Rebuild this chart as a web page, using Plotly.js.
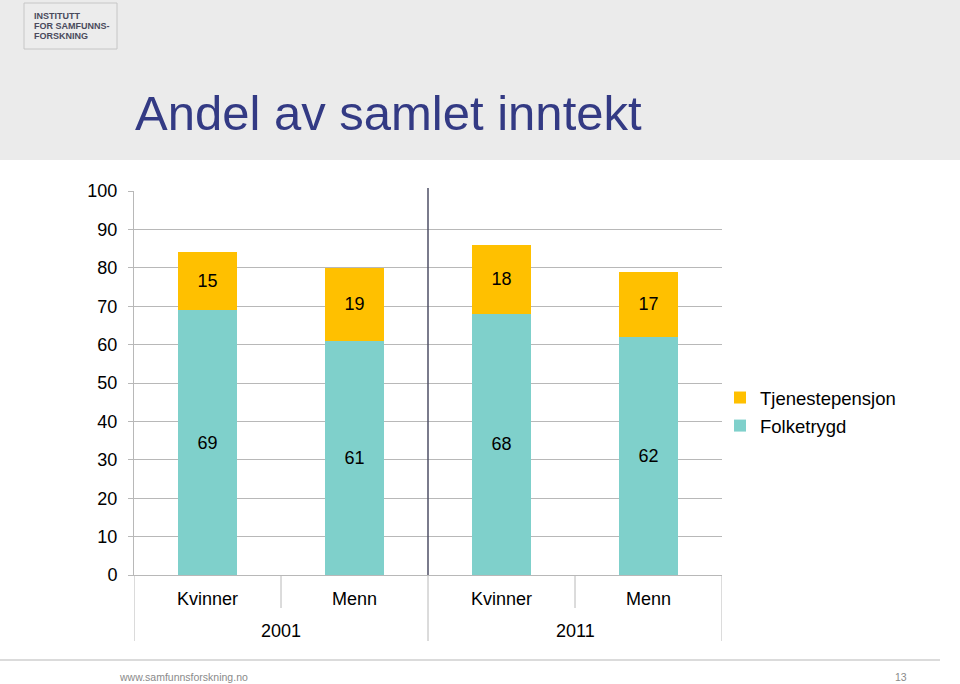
<!DOCTYPE html>
<html>
<head>
<meta charset="utf-8">
<script src="https://cdn.plot.ly/plotly-3.0.1.min.js"></script>
<style>
html,body{margin:0;padding:0;background:#fff;}
#chart{width:960px;height:684px;}
</style>
</head>
<body>
<div id="chart"></div>
<script>
// ---- data ----
var groups = ["Kvinner", "Menn", "Kvinner", "Menn"];
var years = ["2001", "2011"];
var folketrygd = [69, 61, 68, 62];
var tjenestepensjon = [15, 19, 18, 17];
var yTicks = [0, 10, 20, 30, 40, 50, 60, 70, 80, 90, 100];
var logoLines = ["INSTITUTT", "FOR SAMFUNNS-", "FORSKNING"];

var xpos = groups.map(function (g, i) { return i; });

var L = 134, R = 722, T = 191, B = 575;
function px(x) { return (x - L) / (R - L); }
function py(y) { return (B - y) / (B - T); }

var FONT = "Liberation Sans, Arial, sans-serif";

var traces = [
  {
    type: "bar", name: "Folketrygd", x: xpos, y: folketrygd,
    text: folketrygd.map(String), textposition: "inside", insidetextanchor: "middle",
    textangle: 0, constraintext: "none",
    textfont: {family: FONT, size: 18, color: "#000"},
    marker: {color: "#7fd0cb"}, width: 0.4, hoverinfo: "none",
    legendgroup: "f", legendrank: 2
  },
  {
    type: "bar", name: "Tjenestepensjon", x: xpos, y: tjenestepensjon,
    text: tjenestepensjon.map(String), textposition: "inside", insidetextanchor: "middle",
    textangle: 0, constraintext: "none",
    textfont: {family: FONT, size: 18, color: "#000"},
    marker: {color: "#ffc000"}, width: 0.4, hoverinfo: "none",
    legendgroup: "t", legendrank: 1
  }
];

var shapes = [
  // header band
  {type: "rect", xref: "paper", yref: "paper", x0: px(0), x1: px(960), y0: py(160), y1: py(0),
   fillcolor: "#ebebeb", line: {width: 0}, layer: "below"},
  // logo box
  {type: "rect", xref: "paper", yref: "paper", x0: px(24), x1: px(117), y0: py(49), y1: py(3),
   fillcolor: "#ececec", line: {width: 1, color: "#c6c6c6"}, layer: "below"},
  // footer line
  {type: "line", xref: "paper", yref: "paper", x0: px(0), x1: px(940), y0: py(660), y1: py(660),
   line: {width: 1.5, color: "#cfcfcf"}},
  // year separator
  {type: "line", xref: "x", yref: "paper", x0: 1.5, x1: 1.5, y0: 0, y1: py(188),
   line: {width: 1.5, color: "#4e4f66"}}
];
// category dividers
[-0.5, 1.5, 3.5].forEach(function (v) {
  shapes.push({type: "line", xref: "x", yref: "paper", x0: v, x1: v, y0: 0, y1: py(641),
    line: {width: 1, color: "#b8b8b8"}});
});
[0.5, 2.5].forEach(function (v) {
  shapes.push({type: "line", xref: "x", yref: "paper", x0: v, x1: v, y0: 0, y1: py(608),
    line: {width: 1, color: "#b8b8b8"}});
});

var annotations = [
  {xref: "x", yref: "paper", x: 0.5, y: py(631), xanchor: "center", yanchor: "middle",
   text: years[0], showarrow: false, font: {family: FONT, size: 18, color: "#000"}},
  {xref: "x", yref: "paper", x: 2.5, y: py(631), xanchor: "center", yanchor: "middle",
   text: years[1], showarrow: false, font: {family: FONT, size: 18, color: "#000"}},
  // footer
  {xref: "paper", yref: "paper", x: px(117), y: py(677), xanchor: "left", yanchor: "middle",
   text: "www.samfunnsforskning.no", showarrow: false,
   font: {family: FONT, size: 10.5, color: "#8a8a8a"}},
  {xref: "paper", yref: "paper", x: px(909), y: py(677), xanchor: "right", yanchor: "middle",
   text: "13", showarrow: false,
   font: {family: FONT, size: 10.5, color: "#8a8a8a"}}
];
// logo lines
logoLines.forEach(function (t, i) {
  annotations.push({xref: "paper", yref: "paper", x: px(32), y: py(16 + i * 10),
    xanchor: "left", yanchor: "middle", align: "left", showarrow: false,
    text: "<b>" + t + "</b>", font: {family: FONT, size: 9, color: "#4a4a5c"}});
});

var layout = {
  width: 960, height: 684,
  margin: {l: L, r: 960 - R, t: T, b: 684 - B, pad: 0},
  paper_bgcolor: "#ffffff", plot_bgcolor: "rgba(0,0,0,0)",
  barmode: "stack",
  showlegend: true,
  title: {
    text: "Andel av samlet inntekt",
    xref: "container", yref: "container", x: 135 / 960, xanchor: "left",
    y: 1 - 113 / 684, yanchor: "middle",
    font: {family: FONT, size: 49, color: "#333a84"}
  },
  xaxis: {
    range: [-0.5, 3.5], tickvals: xpos, ticktext: groups,
    showgrid: false, zeroline: false, showline: true, linecolor: "#b8b8b8", linewidth: 1,
    ticks: "", ticklabelstandoff: 7,
    tickfont: {family: FONT, size: 18, color: "#000"}, fixedrange: true
  },
  yaxis: {
    range: [0, 100], tickvals: yTicks, ticktext: yTicks.map(String),
    showgrid: true, gridcolor: "#b8b8b8", gridwidth: 1, zeroline: false,
    showline: true, linecolor: "#b8b8b8", linewidth: 1,
    ticks: "outside", ticklen: 5, tickcolor: "#b8b8b8", ticklabelstandoff: 7,
    tickfont: {family: FONT, size: 18, color: "#000"}, fixedrange: true
  },
  legend: {
    x: px(720), y: py(379), xanchor: "left", yanchor: "top",
    traceorder: "grouped", tracegroupgap: 1,
    font: {family: FONT, size: 18.5, color: "#000"},
    bgcolor: "rgba(0,0,0,0)", itemclick: false, itemdoubleclick: false
  },
  shapes: shapes,
  annotations: annotations
};

Plotly.newPlot("chart", traces, layout, {displayModeBar: false, staticPlot: true});
</script>
</body>
</html>
